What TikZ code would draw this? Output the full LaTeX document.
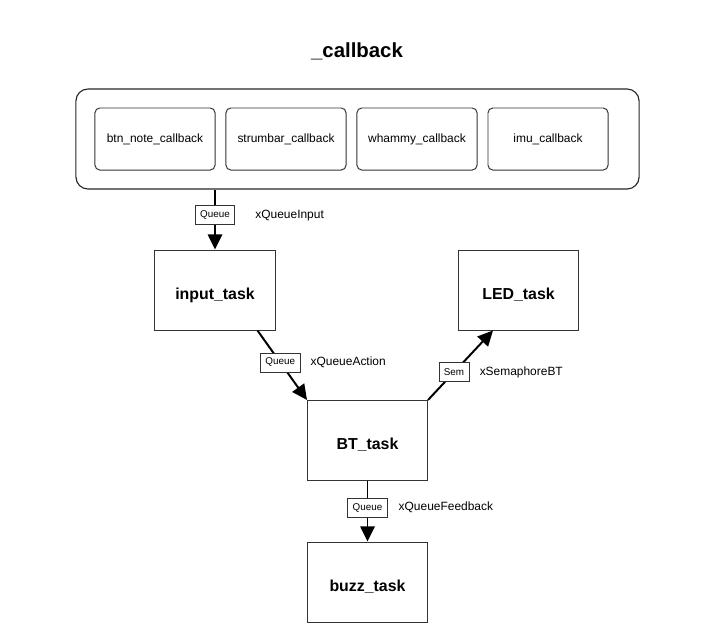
\documentclass[tikz,border=0pt]{standalone}
\usepackage{fontspec}
\setmainfont{Liberation Sans}
\usetikzlibrary{positioning,arrows.meta}

\begin{document}
\begin{tikzpicture}[x=0.025cm, y=-0.025cm,
    every node/.style={inner sep=0pt},
    cbbox/.style={draw=black!80, line width=0.7pt, rounded corners=0.12cm,
        minimum width=3cm, minimum height=1.55cm, font=\fontsize{8.5}{10}\selectfont},
    taskbox/.style={draw=black!80, line width=0.7pt, text height=13pt, text depth=0pt,
        minimum width=3cm, minimum height=2cm, font=\fontsize{11.3}{13}\selectfont\bfseries},
    chanbox/.style={draw=black!80, line width=0.6pt, fill=white,
        minimum height=0.475cm, inner xsep=3.5pt, font=\fontsize{7}{8}\selectfont},
    channame/.style={font=\fontsize{8.5}{10}\selectfont, anchor=west},
    link/.style={line width=1.4pt, -{Triangle[length=0.38cm, width=0.36cm]}}]

    \useasboundingbox (0,0) rectangle (709,637);

    % =====================================================
    % Callback group
    % =====================================================
    \node[font=\fontsize{14.5}{17}\selectfont\bfseries] (title) at (357,51) {\_callback};

    \node[draw=black!85, line width=0.8pt, rounded corners=0.3cm,
        minimum width=14.075cm, minimum height=2.5cm] (cbgroup) at (357.5,139) {};

    \node[cbbox] (btncb)   at (155,139) {btn\_note\_callback};
    \node[cbbox] (strumcb) at (286,139) {strumbar\_callback};
    \node[cbbox] (whammycb) at (417,139) {whammy\_callback};
    \node[cbbox] (imucb)   at (548,139) {imu\_callback};

    % =====================================================
    % Tasks
    % =====================================================
    \node[taskbox] (input_task) at (215,290) {input\_task};
    \node[taskbox] (LED_task)   at (518.5,290) {LED\_task};
    \node[taskbox] (BT_task)    at (367.5,440.5) {BT\_task};
    \node[taskbox] (buzz_task)  at (367.5,582) {buzz\_task};

    % =====================================================
    % Links
    % =====================================================
    \draw[link] (cbgroup.south -| input_task.north) -- (input_task.north)
        node[chanbox, pos=0.43] (qinput) {Queue};
    \node[channame, right=0.5cm of qinput] (qinputname) {xQueueInput};

    \draw[link] ([xshift=-0.45cm]input_task.south east) -- (BT_task.north west)
        node[chanbox, pos=0.46] (qaction) {Queue};
    \node[channame, right=0.25cm of qaction] (qactionname) {xQueueAction};

    \draw[link] (BT_task.north east) -- ([xshift=0.875cm]LED_task.south west)
        node[chanbox, pos=0.4] (semBT) {Sem};
    \node[channame, right=0.25cm of semBT] (semBTname) {xSemaphoreBT};

    \draw[link] (BT_task.south) -- (buzz_task.north)
        node[chanbox, pos=0.44] (qfeedback) {Queue};
    \node[channame, right=0.27cm of qfeedback] (qfeedbackname) {xQueueFeedback};

\end{tikzpicture}
\end{document}
